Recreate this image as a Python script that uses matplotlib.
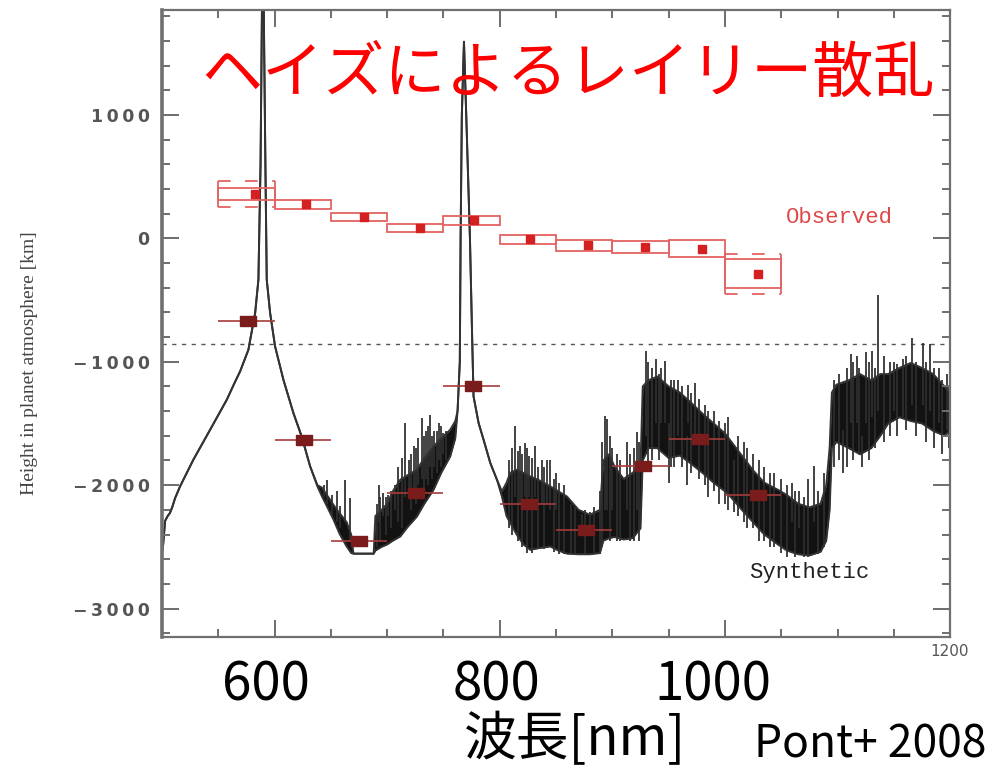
import matplotlib.pyplot as plt
from matplotlib.patches import Rectangle
import numpy as np

plt.rcParams['font.family'] = ['DejaVu Sans']

# synthetic spectrum: wavelength [nm], lower / upper edge of the trace [km]
spec_wl = [500, 501, 502.7, 505, 507, 509, 511.6, 516, 527.8, 542.7, 557.5, 565, 569.3, 576.7,
           582.7, 585.6, 587.5, 589.5, 591.8, 593, 596, 600.4, 607.8, 616.7, 624, 631.6,
           638, 642, 648, 652.3, 658, 664, 668, 670, 688, 689.5, 695, 700, 705, 711.6,
           718, 726.4, 733, 741.2, 748, 756, 760.5, 762.5, 764.5, 765.2, 766.3, 768.2,
           770.2, 773.5, 775.3, 776.7, 781.2, 785.6, 791.6, 797.5, 801.9, 806, 809.3,
           815, 821, 827, 835, 844.9, 852, 859.7, 870, 880, 889, 892, 897, 902, 910,
           918, 925, 927, 932, 940, 950, 960, 969, 980, 990, 1000, 1005, 1015, 1025,
           1035, 1047, 1055, 1065, 1075, 1085, 1090, 1093, 1095, 1099, 1110, 1120,
           1130, 1138, 1145, 1155, 1165, 1175, 1185, 1195, 1200]
spec_lo = [-2540, -2480, -2290, -2250, -2226, -2180, -2105, -2010, -1794, -1551, -1308, -1160, -1079, -903,
           -605, -335, 600, 2600, 600, -335, -605, -876, -1146, -1416, -1605, -1849,
           -2010, -2090, -2200, -2280, -2400, -2497, -2550, -2555, -2555, -2530, -2500, -2480, -2450, -2416,
           -2340, -2254, -2150, -2037, -1900, -1767, -1620, -1400, -1000, 0, 1000, 1593,
           1000, 0, -741, -1281, -1497, -1632, -1821, -1956, -2092, -2250, -2307,
           -2400, -2480, -2524, -2510, -2497, -2530, -2555, -2560, -2560, -2550, -2450, -2430, -2420, -2440,
           -2430, -2350, -1800, -1700, -1700, -1780, -1760, -1820, -1900, -1980, -2050, -2094, -2200, -2300,
           -2400, -2480, -2530, -2560, -2570, -2540, -2450, -2200, -1700, -1650, -1700, -1750,
           -1700, -1600, -1500, -1450, -1480, -1500, -1560, -1600, -1560]
spec_hi = [-2540, -2480, -2290, -2250, -2226, -2180, -2105, -2010, -1794, -1551, -1308, -1160, -1079, -903,
           -605, -335, 600, 2600, 600, -335, -605, -876, -1146, -1416, -1605, -1849,
           -2000, -2020, -2100, -2160, -2230, -2300, -2400, -2555, -2555, -2250, -2200, -2150, -2050, -1956,
           -1920, -1875, -1780, -1686, -1620, -1551, -1480, -1400, -1000, 0, 1000, 1593,
           1000, 0, -741, -1281, -1497, -1632, -1821, -1956, -2050, -1980, -1900,
           -1875, -1900, -1929, -1960, -2010, -2050, -2092, -2200, -2240, -2200, -1800, -1750, -1850, -1950,
           -1900, -1850, -1200, -1150, -1120, -1200, -1250, -1324, -1420, -1500, -1580, -1640, -1760, -1880,
           -1980, -2037, -2080, -2150, -2180, -2150, -2000, -1700, -1250, -1186, -1150, -1100,
           -1150, -1100, -1100, -1050, -1010, -1050, -1100, -1200, -1260]

# single spikes of the noisy trace: wavelength, bottom, top
spike_wl = [644, 646.4, 651, 655, 658.2, 662.7, 667,
            690.5, 692.3, 694, 696.7, 698.5, 701, 703, 707, 710, 713, 716, 719.5, 721, 723.4, 725.5,
            727.5, 730.8, 732.5, 734.5, 736.5, 738.2, 740, 742, 744, 745.6, 748, 750, 752,
            808, 811, 813.8, 816, 818, 820, 822.7, 824, 826, 829, 831.6, 834, 837.5, 839, 841.9,
            845, 848, 850, 853, 857,
            863, 867, 873, 876, 880, 884, 889, 891, 893.2, 895, 898, 900, 904, 907, 913, 916, 919,
            921.5, 924,
            930, 932, 935, 938.7, 941, 943, 947, 950.7, 952, 955, 958, 962, 966, 967.4, 970, 973.4,
            977, 982, 985, 990, 995, 1000, 1003, 1008, 1012, 1017, 1020, 1025, 1030, 1035, 1040,
            1044, 1050, 1055, 1059.6, 1062, 1066, 1070, 1074, 1079, 1083, 1088,
            1097, 1101, 1105, 1108, 1112, 1114, 1117, 1119, 1122, 1125, 1128, 1130.5, 1133, 1136,
            1141, 1147, 1150, 1153, 1158, 1161, 1166.4, 1170, 1176.2, 1179, 1181.8, 1186, 1190,
            1193, 1197, 1199]
spike_y0 = [-2100, -2150, -2250, -2300, -2350, -2300, -2450,
            -2500, -2300, -2450, -2250, -2400, -2250, -2350, -2200, -2300, -2350, -2100, -2100, -2200, -2050, -2150,
            -2000, -1950, -2050, -1950, -2000, -1850, -1950, -1850, -1900, -1800, -1850, -1750, -1800,
            -2350, -2400, -2100, -2450, -2150, -2500, -2100, -2550, -2100, -2550, -2100, -2500, -2150, -2520, -2150,
            -2200, -2540, -2200, -2560, -2560,
            -2560, -2560, -2400, -2560, -2400, -2560, -2560, -2500, -2200, -2200, -2450, -2200, -2450, -2450, -2200, -2450, -2450,
            -2200, -2450,
            -1600, -1850, -1800, -1500, -1800, -1500, -1500, -1985, -1850, -1850, -1600, -1850, -1997, -1500, -1900, -1600,
            -1950, -2000, -2100, -2050, -2150, -2150, -2200, -2215, -2250, -2300, -2350, -2350, -2450, -2450, -2500,
            -2500, -2550, -2580, -2300, -2580, -2350, -2580, -2580, -2300, -2560, -2500,
            -1850, -1800, -1900, -1850, -1500, -1800, -1500, -1750, -1850, -1500, -1800, -1450, -1700, -1400,
            -1650, -1600, -1400, -1600, -1450, -1550, -1350, -1600, -1350, -1650, -1400, -1700, -1500,
            -1750, -1550, -1700]
spike_y1 = [-2000, -1956, -2080, -2050, -2172, -1956, -2105,
            -2150, -1997, -2100, -2062, -2100, -2080, -2050, -2000, -1850, -1780, -1497, -1800, -1750, -1686, -1700,
            -1620, -1456, -1600, -1560, -1520, -1429, -1600, -1560, -1560, -1497, -1520, -1580, -1560,
            -1800, -1700, -1524, -1720, -1680, -1750, -1659, -1700, -1760, -1780, -1686, -1850, -1794, -1850, -1794,
            -1800, -1950, -1900, -1980, -2000,
            -2150, -2180, -2230, -2200, -2220, -2180, -2050, -1650, -1443, -1462, -1600, -1700, -1750, -1800, -1654, -1750, -1700,
            -1571, -1650,
            -911, -1000, -1050, -980, -1100, -1050, -992, -1500, -1150, -1150, -1150, -1200, -1600, -1186, -1250, -1170,
            -1300, -1350, -1400, -1400, -1480, -1500, -1450, -1800, -1600, -1650, -1700, -1750, -1800, -1850, -1900,
            -1900, -1950, -2000, -1985, -2050, -2050, -2100, -1950, -1847, -2050, -1900,
            -1150, -1100, -1550, -1050, -935, -1000, -950, -1050, -1600, -920, -1000, -911, -1050, -457,
            -950, -1000, -1000, -1020, -980, -950, -808, -1000, -849, -1000, -853, -1050, -1050,
            -1150, -1100, -1200]

# binned values
bin_edges = np.arange(550, 1051, 50)
obs_wl = [583, 628, 679, 729, 777, 827, 878, 929, 980, 1029]
obs_y = [359, 278, 173, 83, 145, -9, -58, -72, -83, -293]
obs_lo = [307, 240, 143, 53, 110, -49, -103, -117, -149, -405]
obs_hi = [408, 307, 205, 118, 177, 29, -11, -19, -17, -171]
sys_bins = [0, 9]
sys_lo = [256, -452]
sys_hi = [461, -127]

syn_wl = [576, 626, 675, 726, 776, 826, 877, 927, 978, 1029]
syn_y = [-668, -1638, -2456, -2067, -1197, -2156, -2360, -1841, -1626, -2083]

ref_level = -860

ytick_vals = [-3000, -2000, -1000, 0, 1000]
ytick_labs = ['\u2212\u20093\u20090\u20090\u20090', '\u2212\u20092\u20090\u20090\u20090',
              '\u2212\u20091\u20090\u20090\u20090', '0', '1\u20090\u20090\u20090']


### PLOT
fig = plt.figure(figsize=(10.04, 7.69), dpi=100)
ax = fig.add_axes([0.1614, 0.1717, 0.7849, 0.8153])

ax.fill_between(spec_wl, spec_lo, spec_hi, color='#121212', lw=0, zorder=1)
ax.plot(spec_wl, spec_lo, color='#333333', lw=1.4, zorder=1.2)
ax.plot(spec_wl, spec_hi, color='#333333', lw=1.4, zorder=1.2)
ax.vlines(spike_wl, spike_y0, spike_y1, color='#2e2e2e', lw=1.4, alpha=0.9, zorder=1.1)

ax.axhline(ref_level, color='#555555', lw=1, ls=(0, (3, 4)), zorder=0.5)

# observed: boxes + markers
box_col = '#e46262'
for i in range(len(obs_y)):
    ax.add_patch(Rectangle((bin_edges[i], obs_lo[i]), bin_edges[i + 1] - bin_edges[i],
                           obs_hi[i] - obs_lo[i], fill=False, ec=box_col, lw=1.3, zorder=3))
for k, i in enumerate(sys_bins):
    x0, x1 = bin_edges[i], bin_edges[i + 1]
    ax.hlines([sys_lo[k], sys_hi[k]], x0, x1, colors=box_col, lw=1.3, linestyles=(0, (7, 8)), zorder=3)
    ax.vlines([x0, x1], sys_lo[k], sys_hi[k], colors=box_col, lw=1.3, zorder=3)
ax.plot(obs_wl, obs_y, ls='', marker='s', ms=5.5, color='#d42020', zorder=4)

# synthetic binned
syn_wl_a = np.array(syn_wl)
xerr = [syn_wl_a - bin_edges[:-1], bin_edges[1:] - syn_wl_a]
ax.errorbar(syn_wl, syn_y, xerr=xerr, fmt='none', ecolor='#a83a3a', elinewidth=1.2, capsize=0, zorder=4)
rect = [(-1.5, -1), (1.5, -1), (1.5, 1), (-1.5, 1), (-1.5, -1)]
ax.plot(syn_wl, syn_y, ls='', marker=rect, ms=11, color='#7b1c1c', zorder=5)

ax.text(1102, 167, 'Observed', color='#e04848', fontsize=16, family='Liberation Mono',
        ha='center', va='center')
ax.text(1075, -2711, 'Synthetic', color='#222222', fontsize=16, family='Liberation Mono',
        ha='center', va='center')

# axes
ax.set_xlim(500, 1200)
ax.set_ylim(-3230, 1850)
ax.set_xticks([600, 800, 1000, 1200])
ax.set_xticks(np.arange(500, 1201, 50), minor=True)
ax.set_xticklabels([])
ax.set_yticks(ytick_vals)
ax.set_yticks(np.arange(-3200, 1801, 200), minor=True)
ax.set_yticklabels(ytick_labs, fontsize=12.5, fontweight='bold', color='#555555')
ax.tick_params(which='both', direction='in', top=True, right=True, color='#6e6e6e', width=1.4)
ax.tick_params(which='major', length=12, pad=9)
ax.tick_params(which='minor', length=6)
for s in ax.spines.values():
    s.set_color('#707070')
    s.set_linewidth(1.6)
ax.spines['left'].set_linewidth(2.6)

fig.text(30 / 1004, 1 - 363 / 769, 'Height in planet atmosphere [km]', rotation=90,
         ha='center', va='center', fontsize=14, family='Liberation Serif', color='#444444')
fig.text(950 / 1004, 1 - 652 / 769, '1200', ha='center', va='center',
         fontsize=11, color='#555555')

jp = ['Noto Sans CJK JP', 'DejaVu Sans']
fig.text(568 / 1004, 1 - 75 / 769, 'ヘイズによるレイリー散乱', ha='center', va='center',
         fontsize=44, color='#ff0000', family=jp)
for lab, px in zip(['600', '800', '1000'], [266, 497, 713]):
    fig.text(px / 1004, 1 - 685 / 769, lab, ha='center', va='center', fontsize=38, family=jp)
fig.text(575 / 1004, 1 - 740 / 769, '波長[nm]', ha='center', va='center', fontsize=38, family=jp)
fig.text(870 / 1004, 1 - 745 / 769, 'Pont+ 2008', ha='center', va='center', fontsize=32, family=jp)

plt.savefig('out.png', dpi=100)
